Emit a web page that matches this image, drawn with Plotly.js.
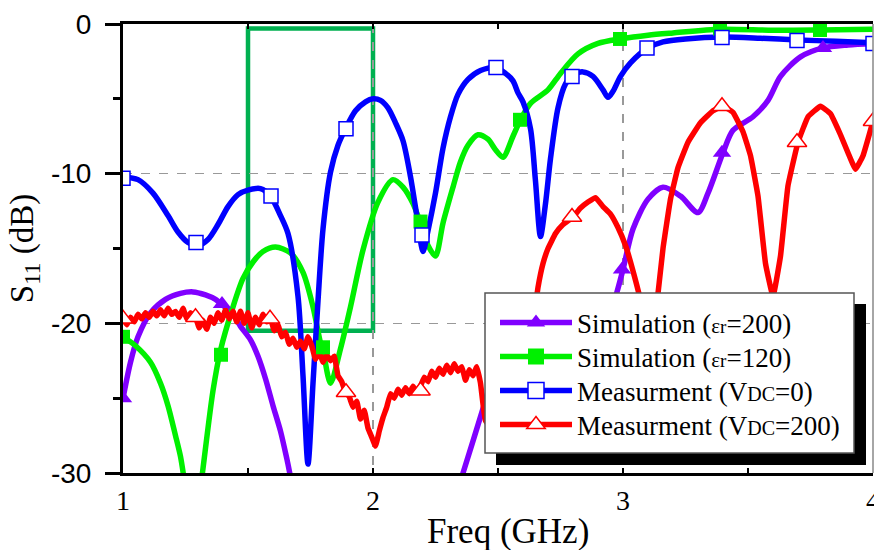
<!DOCTYPE html>
<html>
<head>
<meta charset="utf-8">
<script src="https://cdn.plot.ly/plotly-3.0.1.min.js"></script>
<style>html,body{margin:0;padding:0;background:#fff;}#chart{width:874px;height:550px;}</style>
</head>
<body>
<div id="chart"></div>
<script>
// ---------- data ----------
// Simulation (er=200) - purple
var sim200X = [1.00,1.03,1.06,1.11,1.17,1.23,1.28,1.33,1.37,1.40,1.44,1.47,1.51,1.54,1.57,1.60,1.63,1.656,1.68,1.75,1.85,2.00,2.15,2.28,2.36,2.44,2.50,2.58,2.66,2.75,2.85,2.92,2.976,3.00,3.04,3.10,3.16,3.23,3.30,3.34,3.40,3.44,3.52,3.58,3.63,3.71,3.80,3.90,4.00];
var sim200Y = [-25.0,-22.6,-20.9,-19.3,-18.4,-18.0,-17.9,-18.1,-18.4,-18.8,-19.4,-20.2,-21.1,-22.2,-23.7,-25.5,-27.2,-29.1,-31.0,-35,-40,-43,-40,-34,-30,-25.7,-22.5,-20.0,-19.5,-21.0,-22.5,-21.0,-17.9,-16.4,-13.7,-11.7,-10.9,-11.5,-12.6,-11.3,-8.6,-7.1,-6.2,-5.1,-3.5,-2.2,-1.6,-1.4,-1.3];
var sim200MarkX = [1.0,1.396,2.996,3.396,3.8];
var sim200MarkY = [-25.0,-18.7,-16.4,-8.6,-1.6];

// Simulation (er=120) - green
var sim120X = [1.00,1.05,1.11,1.15,1.18,1.21,1.23,1.25,1.28,1.31,1.32,1.36,1.39,1.44,1.48,1.52,1.56,1.61,1.67,1.72,1.76,1.79,1.80,1.83,1.87,1.91,1.96,2.02,2.08,2.12,2.16,2.19,2.22,2.25,2.28,2.32,2.35,2.38,2.42,2.46,2.49,2.52,2.56,2.59,2.63,2.70,2.75,2.82,2.90,2.99,3.10,3.20,3.39,3.60,3.79,4.00];
var sim120Y = [-20.9,-21.5,-22.6,-24.0,-25.5,-27.5,-28.9,-31,-34,-31,-29.7,-24.5,-21.8,-18.9,-17.0,-15.9,-15.2,-14.9,-15.3,-16.6,-18.9,-21.3,-21.8,-24.0,-21.7,-18.9,-15.1,-11.9,-10.4,-10.9,-12.0,-13.3,-14.8,-15.5,-13.3,-10.9,-9.2,-8.1,-7.4,-7.7,-8.4,-8.9,-7.5,-6.4,-5.3,-4.4,-3.3,-2.0,-1.3,-1.0,-0.75,-0.6,-0.35,-0.42,-0.4,-0.35];
var sim120MarkX = [1.0,1.392,1.8,2.19,2.588,2.988,3.388,3.788];
var sim120MarkY = [-20.9,-22.1,-21.6,-13.2,-6.4,-1.0,-0.3,-0.4];

// Measurement (VDC=0) - blue
var meas0X = [1.00,1.06,1.12,1.18,1.22,1.26,1.30,1.34,1.38,1.42,1.46,1.50,1.55,1.59,1.63,1.66,1.70,1.72,1.74,1.76,1.78,1.80,1.83,1.86,1.89,1.93,1.97,2.00,2.03,2.06,2.09,2.12,2.15,2.18,2.20,2.22,2.25,2.28,2.31,2.34,2.38,2.43,2.49,2.53,2.56,2.58,2.60,2.63,2.65,2.67,2.69,2.71,2.74,2.77,2.80,2.84,2.88,2.92,2.94,2.96,2.99,3.03,3.10,3.16,3.25,3.40,3.55,3.70,3.85,4.00];
var meas0Y = [-10.2,-10.4,-11.3,-12.8,-13.9,-14.6,-14.8,-14.4,-13.4,-12.2,-11.4,-11.1,-11.0,-11.5,-12.8,-14.0,-18.2,-23.5,-29.4,-24.0,-18.5,-13.7,-9.9,-8.1,-7.0,-5.8,-5.2,-5.0,-5.1,-5.6,-6.6,-7.8,-10.2,-13.3,-15.2,-13.8,-11.3,-8.3,-6.2,-4.7,-3.7,-3.1,-2.9,-3.3,-3.8,-4.6,-5.2,-7.0,-10.5,-14.2,-12.0,-9.0,-5.6,-4.0,-3.4,-3.2,-3.5,-4.4,-4.9,-4.5,-3.5,-2.6,-1.6,-1.2,-1.0,-0.87,-0.95,-1.07,-1.15,-1.25];
var meas0MarkX = [1.0,1.292,1.592,1.892,2.196,2.492,2.796,3.096,3.396,3.696,4.0];
var meas0MarkY = [-10.3,-14.6,-11.5,-7.0,-14.1,-2.9,-3.5,-1.6,-0.9,-1.1,-1.3];

// Measurement (VDC=200) - red
var meas200X = [1.00,1.015,1.03,1.045,1.06,1.075,1.09,1.105,1.12,1.135,
  1.15,1.165,1.18,1.195,1.21,1.225,1.24,1.255,1.27,1.29,
  1.305,1.32,1.335,1.35,1.365,1.38,1.395,1.41,1.425,1.44,
  1.455,1.47,1.485,1.50,1.515,1.53,1.545,1.56,1.575,1.59,
  1.605,1.62,1.635,1.65,1.665,1.68,1.695,1.71,1.725,1.74,
  1.755,1.77,1.785,1.80,1.815,1.83,1.845,1.86,1.875,1.89,
  1.905,1.92,1.935,1.95,1.965,1.98,1.995,2.01,2.025,2.04,
  2.055,2.07,2.085,2.10,2.115,2.13,2.145,2.16,2.175,2.19,
  2.205,2.22,2.235,2.25,2.265,2.28,2.295,2.31,2.325,2.34,
  2.355,2.37,2.385,2.40,2.415,2.43,
  2.45,2.50,2.55,2.60,2.64,2.66,2.68,2.70,2.73,2.76,
  2.80,2.83,2.86,2.89,2.92,2.95,2.98,3.01,3.04,3.07,
  3.10,3.13,3.16,3.19,3.22,3.26,3.31,3.36,3.40,3.44,
  3.48,3.51,3.54,3.57,3.60,3.63,3.66,3.70,3.74,3.79,
  3.83,3.87,3.90,3.93,3.96,4.00];
var meas200Y = [-19.7,-20.1,-19.6,-19.9,-19.4,-19.7,-19.3,-19.6,-19.2,-19.5,
  -19.1,-19.5,-19.0,-19.4,-19.2,-19.6,-19.0,-19.7,-19.3,-19.6,
  -20.3,-19.8,-20.4,-19.6,-20.0,-19.3,-19.8,-19.1,-19.7,-19.2,
  -19.9,-19.2,-20.0,-19.3,-20.3,-19.6,-20.1,-19.4,-19.9,-19.7,
  -20.5,-20.1,-20.9,-20.6,-21.4,-21.0,-21.6,-21.2,-21.7,-20.9,
  -21.5,-22.4,-21.9,-22.6,-22.1,-22.5,-22.2,-23.5,-23.9,-24.6,
  -24.9,-25.6,-25.2,-26.4,-25.8,-27.0,-27.6,-28.2,-27.2,-26.3,
  -25.6,-24.7,-25.0,-24.4,-24.8,-24.3,-24.7,-24.2,-24.6,-24.2,
  -23.6,-23.9,-23.2,-23.6,-23.0,-23.4,-22.8,-23.3,-22.7,-23.2,
  -22.9,-23.8,-23.1,-23.5,-22.9,-24.0,
  -26.5,-27.5,-27.8,-26.0,-20.0,-17.6,-16.0,-15.0,-14.0,-13.4,
  -12.9,-12.3,-11.9,-11.6,-12.2,-12.7,-13.6,-14.8,-16.5,-18.5,
  -23.0,-19.5,-15.0,-11.7,-9.6,-7.9,-6.6,-5.8,-5.5,-5.9,
  -7.2,-8.8,-11.5,-16.0,-18.2,-15.5,-10.8,-7.9,-6.2,-5.5,
  -6.0,-7.4,-8.6,-9.7,-8.8,-6.5];
var meas200MarkX = [1.0,1.29,1.588,1.892,2.19,2.796,3.396,3.696,4.0];
var meas200MarkY = [-19.7,-19.6,-19.7,-24.6,-24.5,-12.9,-5.5,-7.9,-6.5];

var legendNames = [
  'Simulation (<span style="font-size:21px">ε</span><span style="font-size:19px">r</span>=200)',
  'Simulation (<span style="font-size:21px">ε</span><span style="font-size:19px">r</span>=120)',
  'Measurment (V<span style="font-size:20px">DC</span>=0)',
  'Measurment (V<span style="font-size:20px">DC</span>=200)'
];
var xTickVals = [1,2,3,4];
var yTickVals = [0,-10,-20,-30];
var xTitle = 'Freq (GHz)';
var yTitle = 'S<sub>11</sub> (dB)';

// ---------- styles ----------
var PURPLE = 'rgb(128,0,255)', GREEN = 'rgb(0,240,0)', BLUE = 'rgb(0,0,255)', RED = 'rgb(255,0,0)';
var series = [
  {x: sim200X, y: sim200Y, mx: sim200MarkX, my: sim200MarkY, color: PURPLE,
   marker: {symbol: 'triangle-up', size: 16, color: PURPLE, line: {width: 0}}},
  {x: sim120X, y: sim120Y, mx: sim120MarkX, my: sim120MarkY, color: GREEN,
   marker: {symbol: 'square', size: 14, color: GREEN, line: {width: 0}}},
  {x: meas0X, y: meas0Y, mx: meas0MarkX, my: meas0MarkY, color: BLUE,
   marker: {symbol: 'square', size: 14, color: 'white', line: {width: 1.5, color: BLUE}}},
  {x: meas200X, y: meas200Y, mx: meas200MarkX, my: meas200MarkY, color: RED,
   marker: {symbol: 'triangle-up', size: 17, color: 'white', line: {width: 1.5, color: RED}}, smooth: 0.3}
];

function px2paperX(p) { return (p - 123) / 750; }
function px2paperY(p) { return (473 - p) / 449; }

var legendRowsPx = [323, 357, 391, 425];
var legendFont = {family: 'Liberation Serif, Times New Roman, serif', size: 27, color: '#000'};

var traces = [];
series.forEach(function (s) {
  traces.push({x: s.x, y: s.y, type: 'scatter', mode: 'lines', showlegend: false, hoverinfo: 'skip',
    line: {color: s.color, width: 5.5, shape: 'spline', smoothing: s.smooth || 0.8}});
});
series.forEach(function (s) {
  traces.push({x: s.mx, y: s.my, type: 'scatter', mode: 'markers', showlegend: false, hoverinfo: 'skip',
    marker: s.marker});
});
var legendLayouts = {};
series.forEach(function (s, i) {
  var lm = JSON.parse(JSON.stringify(s.marker));
  lm.size = s.marker.size + 4;
  var lname = i === 0 ? 'legend' : 'legend' + (i + 1);
  traces.push({x: [null], y: [null], type: 'scatter', mode: 'lines+markers', name: legendNames[i],
    legend: lname, showlegend: true, line: {color: s.color, width: 5.5}, marker: lm});
  legendLayouts[lname] = {
    x: px2paperX(495), y: px2paperY(legendRowsPx[i]), xanchor: 'left', yanchor: 'middle',
    bgcolor: 'rgba(0,0,0,0)', borderwidth: 0, itemwidth: 72, font: legendFont
  };
});

var layout = {
  width: 874, height: 550,
  margin: {l: 123, r: 1, t: 24, b: 77, pad: 0},
  paper_bgcolor: 'white', plot_bgcolor: 'rgba(0,0,0,0)',
  font: {family: 'Liberation Serif, Times New Roman, serif', color: '#000'},
  showlegend: true,
  xaxis: {
    range: [1, 4], tickvals: xTickVals, ticktext: xTickVals.map(String),
    ticks: 'inside', ticklen: 5, tickwidth: 1.5, tickcolor: '#000',
    minor: {dtick: 0.5, ticks: 'inside', ticklen: 5, tickwidth: 1.5, tickcolor: '#000', showgrid: false},
    showline: true, linecolor: '#000', linewidth: 3, mirror: 'ticks',
    showgrid: true, gridcolor: '#999', griddash: 'dash', gridwidth: 1.5, zeroline: false,
    tickfont: {family: 'Liberation Serif, Times New Roman, serif', size: 28},
    ticklabelstandoff: 0, ticklabeloverflow: 'allow'
  },
  yaxis: {
    range: [-30, 0], tickvals: yTickVals, ticktext: yTickVals.map(String),
    ticks: 'outside', ticklen: 15, tickwidth: 3, tickcolor: '#000',
    minor: {tickvals: [-5, -15, -25], ticks: 'outside', ticklen: 7, tickwidth: 3, tickcolor: '#000', showgrid: false},
    showline: true, linecolor: '#000', linewidth: 3, mirror: false,
    showgrid: true, gridcolor: '#999', griddash: 'dash', gridwidth: 1.5, zeroline: false,
    tickfont: {family: 'Liberation Sans, Arial, sans-serif', size: 28},
    ticklabelstandoff: 8,
    title: {text: yTitle, font: {family: 'Liberation Serif, Times New Roman, serif', size: 33}, standoff: 8}
  },
  annotations: [
    {text: xTitle, xref: 'paper', yref: 'paper', x: px2paperX(508), y: px2paperY(531),
     xanchor: 'center', yanchor: 'middle', showarrow: false, borderpad: 0,
     font: {family: 'Liberation Serif, Times New Roman, serif', size: 35, color: '#000'}}
  ],
  shapes: [
    {type: 'rect', xref: 'x', yref: 'y', x0: 1.5, x1: 2.0, y0: -20.5, y1: -0.3,
     line: {color: 'rgb(0,176,80)', width: 4.5}, fillcolor: 'rgba(0,0,0,0)', layer: 'below'},
    {type: 'line', xref: 'paper', yref: 'paper', x0: 1, x1: 1, y0: 0, y1: 1,
     line: {color: '#888', width: 1.5}, layer: 'above'},
    {type: 'rect', xref: 'paper', yref: 'paper', x0: px2paperX(496), x1: px2paperX(866), y0: px2paperY(465), y1: px2paperY(304),
     line: {width: 0}, fillcolor: '#000', layer: 'above'},
    {type: 'rect', xref: 'paper', yref: 'paper', x0: px2paperX(485), x1: px2paperX(854), y0: px2paperY(453), y1: px2paperY(293),
     line: {width: 1.5, color: '#555'}, fillcolor: '#fff', layer: 'above'}
  ]
};
Object.keys(legendLayouts).forEach(function (k) { layout[k] = legendLayouts[k]; });

Plotly.newPlot('chart', traces, layout, {staticPlot: true, displayModeBar: false});
</script>
</body>
</html>
